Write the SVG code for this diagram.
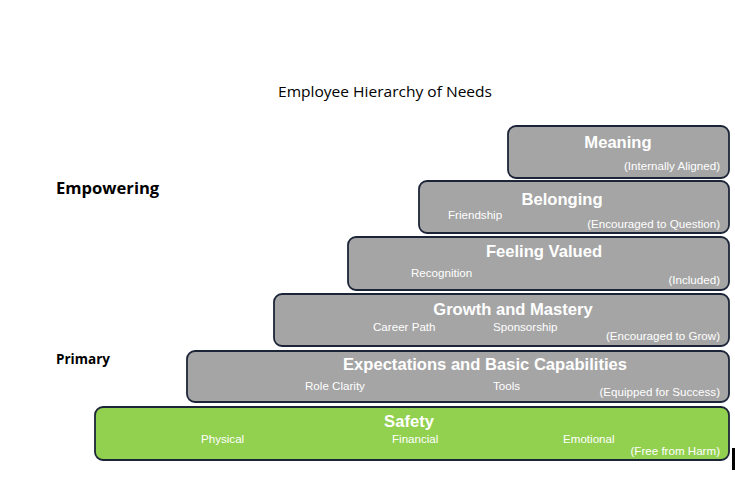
<svg xmlns="http://www.w3.org/2000/svg" width="735" height="501" viewBox="0 0 735 501">
<style>
.box{fill:#a5a5a5;stroke:#1c2538;stroke-width:1.8}
.green{fill:#92d050;stroke:#1c2538;stroke-width:1.8}
.h{font-family:"Liberation Sans",Arial,sans-serif;font-weight:bold;font-size:16.6px;fill:#fff;text-anchor:middle}
.s{font-family:"Liberation Sans",Arial,sans-serif;font-size:11.6px;fill:#fff}
.r{text-anchor:end}
.lab{font-family:"Open Sans","Liberation Sans",sans-serif;font-weight:bold;fill:#000}
</style>
<rect width="735" height="501" fill="#fff"/>
<text x="278" y="97" textLength="214" lengthAdjust="spacingAndGlyphs" font-family="Open Sans,Liberation Sans,sans-serif" font-size="15" font-weight="500" fill="#000">Employee Hierarchy of Needs</text>
<text class="lab" x="56" y="194" font-size="16.6">Empowering</text>
<text class="lab" x="56" y="364" font-size="13.5">Primary</text>
<g id="meaning">
<rect class="box" x="508" y="126" width="221" height="52" rx="8"/>
<text class="h" x="618" y="148">Meaning</text>
<text class="s r" x="720" y="170">(Internally Aligned)</text>
</g>
<g id="belonging">
<rect class="box" x="419" y="181" width="310" height="52" rx="8"/>
<text class="h" x="562" y="205">Belonging</text>
<text class="s" x="448" y="219">Friendship</text>
<text class="s r" x="720" y="228">(Encouraged to Question)</text>
</g>
<g id="valued">
<rect class="box" x="348" y="237" width="381" height="53" rx="8"/>
<text class="h" x="544" y="257">Feeling Valued</text>
<text class="s" x="411" y="277">Recognition</text>
<text class="s r" x="720" y="284">(Included)</text>
</g>
<g id="growth">
<rect class="box" x="274" y="294" width="455" height="52" rx="8"/>
<text class="h" x="513" y="315">Growth and Mastery</text>
<text class="s" x="373" y="331">Career Path</text>
<text class="s" x="493" y="331">Sponsorship</text>
<text class="s r" x="720" y="340">(Encouraged to Grow)</text>
</g>
<g id="expectations">
<rect class="box" x="187" y="351" width="542" height="51" rx="8"/>
<text class="h" x="485" y="370">Expectations and Basic Capabilities</text>
<text class="s" x="305" y="390">Role Clarity</text>
<text class="s" x="493" y="390">Tools</text>
<text class="s r" x="720" y="396">(Equipped for Success)</text>
</g>
<g id="safety">
<rect class="green" x="95" y="407" width="634" height="53" rx="8"/>
<text class="h" x="409" y="427">Safety</text>
<text class="s" x="201" y="443">Physical</text>
<text class="s" x="392" y="443">Financial</text>
<text class="s" x="563" y="443">Emotional</text>
<text class="s r" x="720" y="455">(Free from Harm)</text>
</g>
<g id="connectors"></g>
<rect x="732" y="448" width="3" height="22" fill="#000"/>
</svg>
